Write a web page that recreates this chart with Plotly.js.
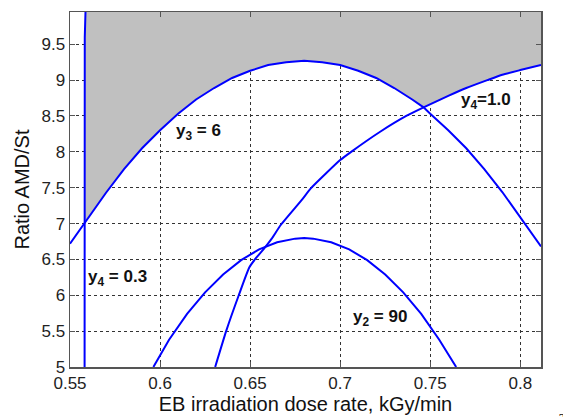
<!DOCTYPE html>
<html>
<head>
<meta charset="utf-8">
<script src="https://cdn.plot.ly/plotly-3.0.1.min.js"></script>
<style>html,body{margin:0;padding:0;background:#fff;}#chart{width:563px;height:417px;}</style>
</head>
<body>
<div id="chart"></div>
<script>
// Curve y3 = 6
const y3X = [0.5500, 0.5581, 0.5600, 0.5700, 0.5800, 0.5900, 0.6000, 0.6100, 0.6200, 0.6300, 0.6400, 0.6500, 0.6600, 0.6700, 0.6800, 0.6900, 0.7000, 0.7100, 0.7200, 0.7300, 0.7400, 0.7463, 0.7500, 0.7600, 0.7700, 0.7800, 0.7900, 0.8000, 0.8115];
const y3Y = [6.72, 7.01, 7.08, 7.43, 7.76, 8.05, 8.30, 8.53, 8.73, 8.89, 9.03, 9.13, 9.21, 9.25, 9.27, 9.25, 9.21, 9.13, 9.03, 8.89, 8.73, 8.62, 8.53, 8.30, 8.05, 7.76, 7.44, 7.09, 6.68];
// Curve y4 = 1.0
const y41X = [0.6306, 0.6367, 0.6437, 0.6496, 0.6533, 0.6574, 0.6620, 0.6670, 0.6787, 0.6837, 0.7000, 0.7061, 0.7222, 0.7367, 0.7463, 0.7600, 0.7700, 0.7817, 0.7900, 0.8000, 0.8115];
const y41Y = [5.00, 5.50, 6.00, 6.39, 6.52, 6.64, 6.79, 6.98, 7.33, 7.49, 7.885, 8.00, 8.28, 8.50, 8.62, 8.78, 8.89, 9.00, 9.075, 9.14, 9.21];
// Curve y2 = 90
const y2X = [0.5963, 0.6050, 0.6150, 0.6250, 0.6350, 0.6450, 0.6550, 0.6650, 0.6750, 0.6800, 0.6850, 0.6950, 0.7050, 0.7150, 0.7250, 0.7350, 0.7450, 0.7550, 0.7644];
const y2Y = [5.00, 5.38, 5.74, 6.04, 6.29, 6.49, 6.64, 6.74, 6.79, 6.80, 6.79, 6.74, 6.64, 6.49, 6.29, 6.04, 5.74, 5.38, 5.00];
// Curve y4 = 0.3 (near vertical)
const y403X = [0.5581, 0.5581, 0.5582, 0.5586];
const y403Y = [5.00, 8.00, 9.60, 9.95];

const xTicks = [0.55, 0.6, 0.65, 0.7, 0.75, 0.8];
const yTicks = [5, 5.5, 6, 6.5, 7, 7.5, 8, 8.5, 9, 9.5];
const labels = ['y<sub>3</sub> = 6', 'y<sub>4</sub> = 0.3', 'y<sub>4</sub>=1.0', 'y<sub>2</sub> = 90'];
const labelX = [0.6211, 0.5764, 0.7811, 0.7222];
const labelY = [8.28, 6.24, 8.71, 5.68];

const xMax = 0.8115, yMax = 9.95;
const crossX = 0.7463;

// shaded region boundary built from the curves
const fx = [], fy = [];
for (let i = 0; i < y3X.length; i++) {
  if (y3X[i] >= y403X[0] && y3X[i] <= crossX) { fx.push(y3X[i]); fy.push(y3Y[i]); }
}
for (let i = 0; i < y41X.length; i++) {
  if (y41X[i] > crossX) { fx.push(y41X[i]); fy.push(y41Y[i]); }
}
fx.push(xMax, y403X[3]); fy.push(yMax, yMax);
for (let i = y403X.length - 2; i >= 1; i--) { fx.push(y403X[i]); fy.push(y403Y[i]); }

const blue = '#0000ff';
const traces = [
  {x: fx, y: fy, type: 'scatter', mode: 'lines', fill: 'toself', fillcolor: '#c0c0c0', line: {width: 0}, hoverinfo: 'skip'},
  {x: y3X, y: y3Y, type: 'scatter', mode: 'lines', line: {color: blue, width: 2}},
  {x: y41X, y: y41Y, type: 'scatter', mode: 'lines', line: {color: blue, width: 2, shape: 'spline', smoothing: 0.5}},
  {x: y2X, y: y2Y, type: 'scatter', mode: 'lines', line: {color: blue, width: 2}},
  {x: y403X, y: y403Y, type: 'scatter', mode: 'lines', line: {color: blue, width: 2}}
];

const font = 'Liberation Sans, Arial, sans-serif';
const annotations = labels.map((t, i) => ({
  x: labelX[i], y: labelY[i], xref: 'x', yref: 'y', text: '<b>' + t + '</b>', showarrow: false,
  font: {family: font, size: 17, color: '#111'}, xanchor: 'center', yanchor: 'middle'
}));
annotations.push({x: 1.031, y: -0.14, xref: 'paper', yref: 'paper', text: 'a)', showarrow: false,
  font: {family: 'Liberation Serif, Times New Roman, serif', size: 17, color: '#111'}, xanchor: 'left', yanchor: 'middle'});

const axisCommon = {
  showgrid: true, gridcolor: '#333', griddash: '3px,3px', gridwidth: 1,
  showline: true, linecolor: '#555', linewidth: 1.5, mirror: 'ticks',
  ticks: 'inside', ticklen: 5, tickcolor: '#555', zeroline: false,
  tickfont: {family: font, size: 17, color: '#222'}
};

const layout = {
  width: 563, height: 417,
  margin: {l: 70, r: 22, t: 12, b: 50},
  paper_bgcolor: '#fff', plot_bgcolor: '#fff',
  showlegend: false,
  xaxis: Object.assign({}, axisCommon, {
    range: [0.55, xMax], tickvals: xTicks, ticktext: xTicks.map(String),
    title: {text: 'EB irradiation dose rate, kGy/min', font: {family: font, size: 20, color: '#111'}, standoff: 4}
  }),
  yaxis: Object.assign({}, axisCommon, {
    range: [5, yMax], tickvals: yTicks, ticktext: yTicks.map(String),
    title: {text: 'Ratio AMD/St', font: {family: font, size: 20, color: '#111'}, standoff: 6}
  }),
  annotations: annotations
};

Plotly.newPlot('chart', traces, layout, {staticPlot: true, displayModeBar: false});
</script>
</body>
</html>
